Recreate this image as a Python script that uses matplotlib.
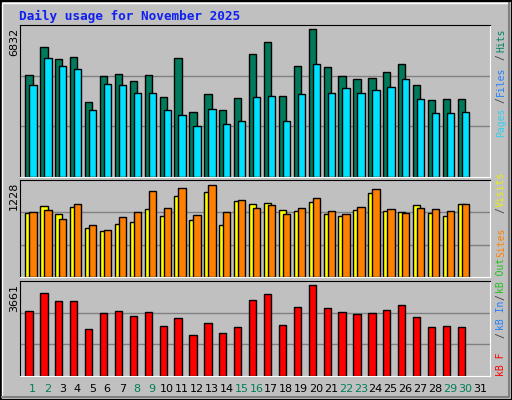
import matplotlib
matplotlib.use("Agg")
import matplotlib.pyplot as plt
import numpy as np

days = list(range(1, 32))
weekend = [1, 2, 8, 9, 15, 16, 22, 23, 29, 30]
hits = [4705, 6000, 5445, 5537, 3455, 4658, 4751, 4427, 4705, 3687, 5491, 2993, 3826, 3085, 3641,
        5676, 6231, 3733, 5121, 6832, 5075, 4658, 4520, 4566, 4843, 5213, 4242, 3548, 3594, 3594]
files = [4242, 5491, 5121, 4982, 3085, 4288, 4242, 3872, 3872, 3085, 2854, 2345, 3132, 2438, 2577,
         3687, 3733, 2577, 3826, 5213, 3872, 4103, 3872, 4011, 4150, 4520, 3594, 2947, 2947, 2993]
visits = [856, 949, 842, 936, 656, 616, 709, 736, 909, 816, 1082, 763, 1135, 696, 1015,
          975, 989, 896, 882, 1002, 842, 816, 896, 1122, 882, 869, 962, 856, 816, 975]
sites = [869, 896, 776, 975, 696, 630, 803, 869, 1148, 922, 1188, 829, 1228, 869, 1029,
         922, 962, 842, 922, 1055, 882, 842, 936, 1175, 909, 856, 922, 909, 882, 975]
kb = [2619, 3340, 3020, 3020, 1897, 2538, 2619, 2418, 2579, 2017, 2338, 1657, 2138, 1737, 1977,
      3060, 3300, 2057, 2779, 3661, 2739, 2579, 2498, 2538, 2659, 2859, 2378, 1977, 2017, 1977]

W, H = 512, 400
fig = plt.figure(figsize=(W/100, H/100), dpi=100, facecolor="#c0c0c0")
mono = "DejaVu Sans Mono"

def ax_at(top, bottom, ymax):
    ax = fig.add_axes([20/W, 1-bottom/H, 470/W, (bottom-top)/H])
    ax.set_facecolor("#c0c0c0")
    ax.set_xlim(0.148, 31.67)
    ax.set_ylim(0, ymax)
    ax.set_xticks([]); ax.set_yticks([])
    for y in (ymax/3, 2*ymax/3):
        ax.axhline(y, color="#808080", lw=1, zorder=0)
    ax.spines["top"].set_color("black"); ax.spines["left"].set_color("black")
    ax.spines["bottom"].set_color("white"); ax.spines["right"].set_color("white")
    return ax

x = np.arange(1, 31)
bw = 0.49
ax1 = ax_at(25, 177, 7031)
ax1.bar(x-0.25, hits, bw, color="#007a5a", edgecolor="black", lw=1)
ax1.bar(x+0.02, files, bw, color="#00e0ff", edgecolor="black", lw=1)
ax2 = ax_at(180, 277, 1290)
ax2.bar(x-0.25, visits, bw, color="#ffff00", edgecolor="black", lw=1)
ax2.bar(x+0.02, sites, bw, color="#ff8000", edgecolor="black", lw=1)
ax3 = ax_at(281, 376, 3809)
ax3.bar(x-0.25, kb, bw, color="#ff0000", edgecolor="black", lw=1)

def ft(px, py, s, **kw):
    fig.text(px/W, 1-py/H, s, **kw)

ft(19, 16, "Daily usage for November 2025", family=mono, weight="bold", fontsize=9.2,
   color="#1020f0", va="center", ha="left")
ft(14, 28, "6832", rotation=90, va="top", ha="center", fontsize=8, color="black")
ft(14, 182, "1228", rotation=90, va="top", ha="center", fontsize=8, color="black")
ft(14, 284, "3661", rotation=90, va="top", ha="center", fontsize=8, color="black")

for d in days:
    ft(32.7 + (d-1)*14.91, 389, str(d), ha="center", va="center", fontsize=8,
       color="#00805a" if d in weekend else "black")

right = [("Hits", 40, "#008060"), ("/", 57, "#404040"), ("Files", 81, "#2080ff"),
         ("/", 100, "#404040"), ("Pages", 122, "#30d0f0"),
         ("Visits", 189, "#f0f000"), ("/", 210, "#404040"), ("Sites", 242, "#ff8000"),
         ("kB Out", 275, "#20c020"), ("/", 297, "#404040"), ("kB In", 315, "#2080ff"),
         ("/", 335, "#404040"), ("kB F", 364, "#ff0000")]
for s, py, c in right:
    ft(501, py, s, rotation=90, family=mono, fontsize=7, color=c,
       ha="center", va="center")

# border
fig.add_artist(plt.Rectangle((0.5/W, 0.5/H), (W-1)/W, (H-1)/H, transform=fig.transFigure,
                             fill=False, ec="black", lw=1.5))
fig.add_artist(plt.Line2D([2/W, 2/W, (W-3)/W], [3/H, (H-3)/H, (H-3)/H], transform=fig.transFigure,
                          color="white", lw=1))
fig.add_artist(plt.Line2D([2/W, (W-3)/W, (W-3)/W], [3/H, 3/H, (H-3)/H], transform=fig.transFigure,
                          color="#808080", lw=1.5))
fig.savefig("out.png", dpi=100, facecolor=fig.get_facecolor())
